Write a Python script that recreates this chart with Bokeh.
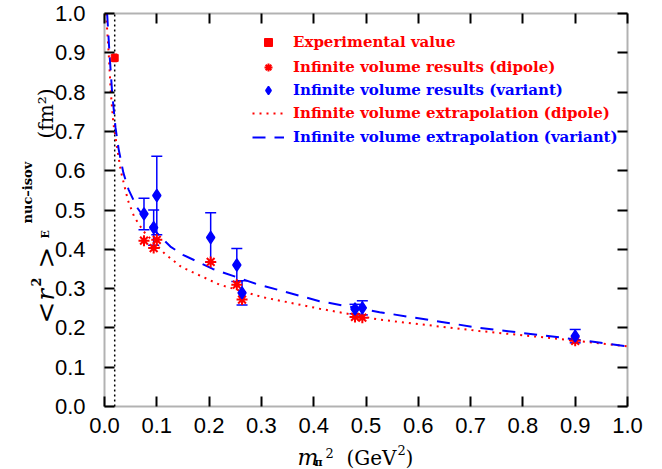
import numpy as np
from bokeh.plotting import figure
from bokeh.models import (ColumnDataSource, Whisker, TeeHead, Label, Legend, LegendItem,
                          BoxAnnotation, FixedTicker, LinearAxis, Range1d, NumeralTickFormatter,
                          CustomJSTickFormatter)
from bokeh.embed import file_html
from bokeh.resources import INLINE

# ---------------- data ----------------
phys_mpi2 = 0.0195

exp_x = [0.0195]
exp_y = [0.887]
exp_err = [0.009]

lat_x = [0.0755, 0.094, 0.100, 0.203, 0.253, 0.263, 0.479, 0.493, 0.900]
dip_y = [0.422, 0.403, 0.424, 0.368, 0.310, 0.272, 0.228, 0.226, 0.167]
var_y = [0.490, 0.455, 0.537, 0.430, 0.360, 0.289, 0.248, 0.251, 0.179]
var_err = [0.040, 0.045, 0.100, 0.063, 0.042, 0.031, 0.012, 0.018, 0.017]

dip_curve_x = [0.003, 0.008, 0.012, 0.017, 0.022, 0.031, 0.045, 0.057, 0.075, 0.115,
               0.147, 0.220, 0.303, 0.411, 0.526, 0.717, 0.870, 1.000]
dip_curve_y = [1.000, 0.900, 0.800, 0.720, 0.677, 0.600, 0.524, 0.482, 0.445, 0.389,
               0.355, 0.310, 0.278, 0.249, 0.221, 0.192, 0.172, 0.153]

var_curve_x = [0.005, 0.0095, 0.0145, 0.021, 0.027, 0.036, 0.046, 0.062, 0.090, 0.126,
               0.150, 0.207, 0.290, 0.411, 0.526, 0.717, 0.870, 1.000]
var_curve_y = [1.000, 0.900, 0.800, 0.710, 0.655, 0.595, 0.552, 0.507, 0.455, 0.407,
               0.386, 0.350, 0.312, 0.268, 0.240, 0.200, 0.176, 0.153]

ticks = [0.0, 0.1, 0.2, 0.3, 0.4, 0.5, 0.6, 0.7, 0.8, 0.9, 1.0]
x_lo, x_hi = 0.0, 1.0
y_lo, y_hi = 0.0, 1.0

legend_labels = ["Experimental value",
                 "Infinite volume results (dipole)",
                 "Infinite volume results (variant)",
                 "Infinite volume extrapolation (dipole)",
                 "Infinite volume extrapolation (variant)"]

RED = "#ff0000"
BLUE = "#0000ff"

# ---------------- layout: plot box 0..1 sits at canvas px x 104..627, y 13..406 ----------------
W, H = 662, 469
BOX_L, BOX_R, BOX_T, BOX_B = 104, 627, 13, 406
sx = (x_hi - x_lo) / (BOX_R - BOX_L)
sy = (y_hi - y_lo) / (BOX_B - BOX_T)
xr = Range1d(x_lo - BOX_L * sx, x_hi + (W - BOX_R) * sx)
yr = Range1d(y_lo - (H - BOX_B) * sy, y_hi + BOX_T * sy)

p = figure(width=W, height=H, output_backend="svg", toolbar_location=None,
           x_range=xr, y_range=yr,
           min_border=0, min_border_left=0, min_border_right=0,
           min_border_top=0, min_border_bottom=0)
p.grid.visible = False
p.outline_line_color = None
p.background_fill_color = "white"
p.border_fill_color = "white"

tick_font = "Liberation Sans"


def style_axis(ax, loc, show_labels):
    ax.fixed_location = loc
    ax.ticker = FixedTicker(ticks=ticks)
    ax.major_tick_in = 10
    ax.major_tick_out = 0
    ax.minor_tick_in = 0
    ax.minor_tick_out = 0
    ax.axis_line_color = None
    ax.major_tick_line_width = 2
    ax.major_tick_line_color = "black"
    if show_labels:
        ax.formatter = NumeralTickFormatter(format="0.0")
        ax.major_label_text_font = tick_font
        ax.major_label_text_font_size = "22px"
        ax.major_label_text_color = "black"
    else:
        ax.formatter = CustomJSTickFormatter(code="return ''")
        ax.major_label_standoff = 0


style_axis(p.xaxis[0], y_lo, True)
style_axis(p.yaxis[0], x_lo, True)
p.xaxis[0].major_label_standoff = 11
p.yaxis[0].major_label_standoff = 19

top_ax = LinearAxis()
right_ax = LinearAxis()
style_axis(top_ax, y_hi, False)
style_axis(right_ax, x_hi, False)
p.add_layout(top_ax, "above")
p.add_layout(right_ax, "right")

# plot box
p.add_layout(BoxAnnotation(left=x_lo, right=x_hi, bottom=y_lo, top=y_hi,
                           fill_color=None, fill_alpha=0, line_color="black", line_width=2,
                           level="underlay"))

# physical point (dotted vertical line)
p.segment(x0=[phys_mpi2], y0=[y_lo], x1=[phys_mpi2], y1=[y_hi],
          line_color="black", line_width=1.5, line_dash="2 3")

# curves
r_dip_line = p.line(dip_curve_x, dip_curve_y, line_color=RED, line_width=2, line_dash="2 5")
r_var_line = p.line(var_curve_x, var_curve_y, line_color=BLUE, line_width=2, line_dash="13 9")

# error bars
var_src = ColumnDataSource(dict(x=lat_x, y=var_y,
                                lo=[v - e for v, e in zip(var_y, var_err)],
                                hi=[v + e for v, e in zip(var_y, var_err)]))
p.add_layout(Whisker(base="x", lower="lo", upper="hi", source=var_src,
                     line_color=BLUE, line_width=1.5,
                     upper_head=TeeHead(size=11, line_color=BLUE, line_width=1.5),
                     lower_head=TeeHead(size=11, line_color=BLUE, line_width=1.5)))
exp_src = ColumnDataSource(dict(x=exp_x, y=exp_y,
                                lo=[v - e for v, e in zip(exp_y, exp_err)],
                                hi=[v + e for v, e in zip(exp_y, exp_err)]))
p.add_layout(Whisker(base="x", lower="lo", upper="hi", source=exp_src,
                     line_color=RED, line_width=1.5,
                     upper_head=TeeHead(size=5, line_color=RED, line_width=1.5),
                     lower_head=TeeHead(size=5, line_color=RED, line_width=1.5)))

# markers
dip_src = ColumnDataSource(dict(x=lat_x, y=dip_y))
r_dip = p.scatter("x", "y", source=dip_src, marker="asterisk", size=11,
                  line_color=RED, line_width=2)
r_var = p.scatter("x", "y", source=var_src, marker="diamond", size=12,
                  line_color=BLUE, fill_color=BLUE, line_width=1.5)
r_exp = p.scatter(exp_x, exp_y, marker="square", size=7, line_color=RED, fill_color=RED)

# legends (one per entry so each label keeps its own colour)
renderers = [r_exp, r_dip, r_var, r_dip_line, r_var_line]
colors = [RED, RED, BLUE, RED, BLUE]
row_centers = [41.7, 66.7, 89.5, 113.3, 136.7]   # canvas y of each legend row
for lab_text, rend, col, cy in zip(legend_labels, renderers, colors, row_centers):
    lg = Legend(items=[LegendItem(label=lab_text, renderers=[rend])],
                location=(252, H - (cy + 10)),
                padding=0, margin=0, spacing=0,
                glyph_width=32, glyph_height=20, label_height=20, label_standoff=9,
                border_line_color=None, background_fill_alpha=0,
                label_text_font="DejaVu Serif", label_text_font_style="bold",
                label_text_font_size="15px", label_text_color=col)
    p.add_layout(lg, "center")


# axis titles, composed from pieces (canvas px -> screen units of the full frame)
def lab(text, cx, cy, size, style="normal", angle=0.0, font="DejaVu Serif",
        baseline="alphabetic"):
    p.add_layout(Label(x=cx, y=H - cy, x_units="screen", y_units="screen",
                       text=text, text_font=font, text_font_size=f"{size}px",
                       text_font_style=style, text_align="left",
                       text_baseline=baseline, angle=angle, text_color="black"))


# m_pi^2 (GeV^2)
lab("m", 297, 457, 22, "italic")
lab("π", 314, 468, 11, "bold", baseline="bottom")
lab("2", 325, 452, 13)
lab("(GeV", 346, 457, 20)
lab("2", 397, 449, 13)
lab(")", 405, 457, 20)

# <r^2>_E^{nuc-isov} (fm^2)
A = np.pi / 2
lab("<", 45, 323, 26, angle=A)
lab("r", 45, 300, 24, "italic", angle=A)
lab("2", 35, 286, 13, "bold", angle=A)
lab(">", 45, 268, 26, angle=A)
lab("E", 45, 238, 11, "bold", angle=A)
lab("nuc–isov", 27, 223, 13, "bold", angle=A)
lab("(fm²)", 45, 138, 20, angle=A)

open("out.html", "w").write(file_html(p, INLINE))
